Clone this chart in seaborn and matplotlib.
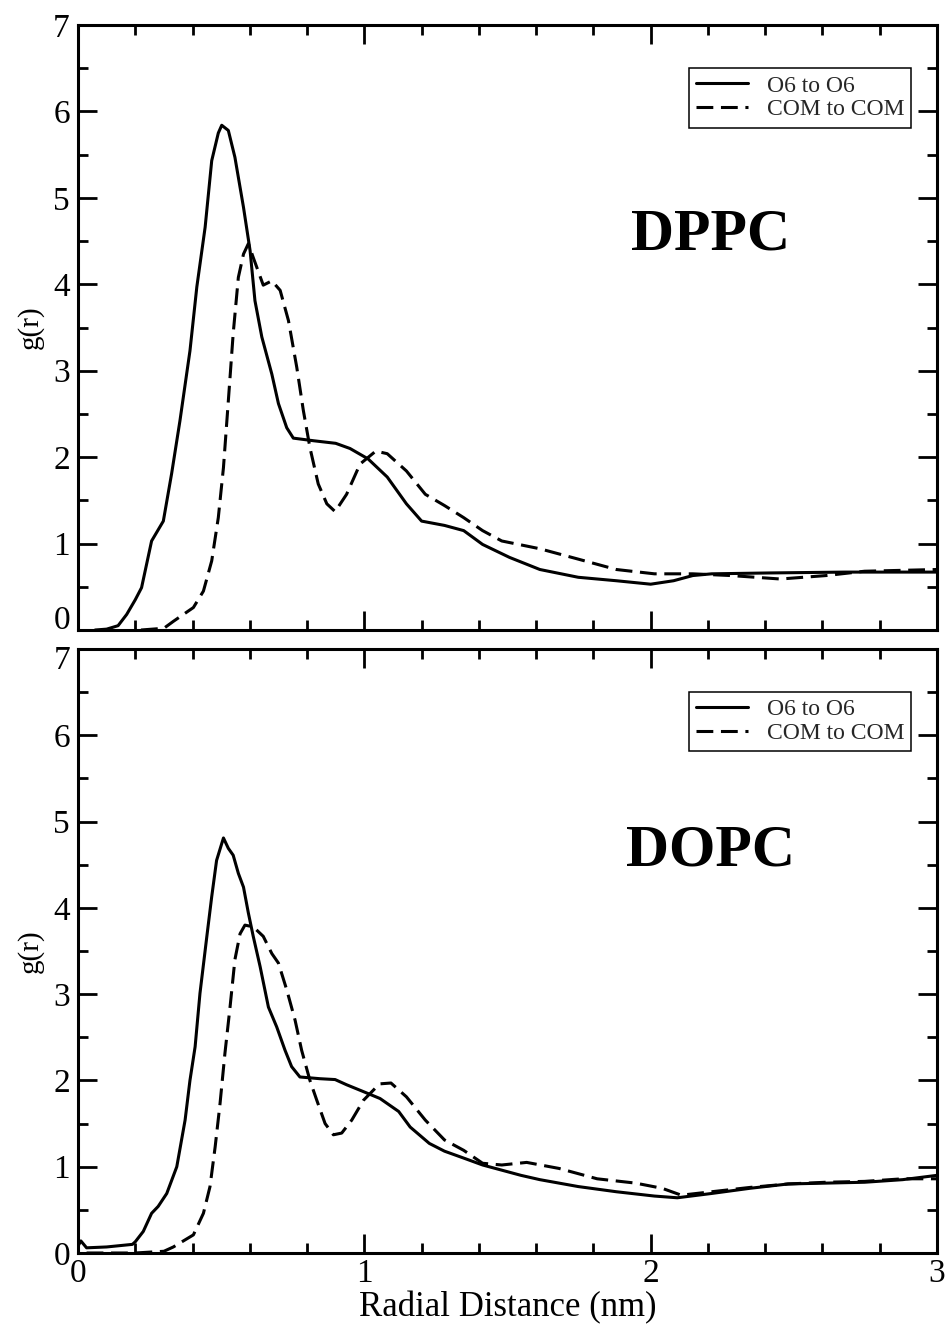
import numpy as np
import pandas as pd
import matplotlib
matplotlib.use("Agg")
import matplotlib.pyplot as plt
from matplotlib.ticker import MultipleLocator, FuncFormatter
import seaborn as sns

# ---- radial distribution functions (r in nm) ----
pairs = ["O6 to O6", "COM to COM"]

dppc_o6_r = [0.06, 0.10, 0.14, 0.17, 0.20, 0.222, 0.257, 0.298, 0.327, 0.356, 0.391, 0.415,
             0.444, 0.467, 0.49, 0.502, 0.525, 0.548, 0.578, 0.601, 0.618, 0.642, 0.677, 0.70,
             0.729, 0.752, 0.822, 0.90, 0.95, 1.013, 1.08, 1.147, 1.20, 1.28, 1.347, 1.413,
             1.507, 1.613, 1.747, 1.88, 2.0, 2.08, 2.147, 2.213, 2.413, 2.68, 3.0]
dppc_o6_g = [0.0, 0.01, 0.05, 0.18, 0.35, 0.49, 1.03, 1.26, 1.81, 2.42, 3.23, 3.97,
             4.66, 5.43, 5.75, 5.84, 5.78, 5.47, 4.89, 4.39, 3.81, 3.39, 2.96, 2.62,
             2.34, 2.22, 2.19, 2.16, 2.10, 1.98, 1.77, 1.46, 1.26, 1.21, 1.15, 0.99,
             0.84, 0.70, 0.61, 0.57, 0.53, 0.57, 0.63, 0.65, 0.66, 0.67, 0.67]

dppc_com_r = [0.22, 0.30, 0.333, 0.403, 0.438, 0.467, 0.49, 0.508, 0.525, 0.542, 0.56, 0.578,
              0.595, 0.612, 0.647, 0.677, 0.706, 0.735, 0.764, 0.787, 0.81, 0.839, 0.869,
              0.898, 0.938, 0.985, 1.04, 1.08, 1.147, 1.213, 1.28, 1.347, 1.413, 1.48, 1.613,
              1.747, 1.88, 2.013, 2.147, 2.28, 2.453, 2.613, 2.747, 3.0]
dppc_com_g = [0.0, 0.02, 0.10, 0.26, 0.45, 0.80, 1.30, 1.88, 2.65, 3.43, 4.08, 4.35,
              4.47, 4.31, 3.99, 4.04, 3.93, 3.58, 3.04, 2.54, 2.11, 1.69, 1.46,
              1.37, 1.57, 1.92, 2.07, 2.04, 1.84, 1.57, 1.44, 1.30, 1.15, 1.03, 0.94,
              0.82, 0.70, 0.65, 0.65, 0.63, 0.59, 0.63, 0.68, 0.70]

dopc_o6_r = [0.0, 0.01, 0.03, 0.10, 0.19, 0.20, 0.228, 0.257, 0.28, 0.31, 0.345, 0.374,
             0.391, 0.409, 0.426, 0.45, 0.467, 0.484, 0.508, 0.525, 0.542, 0.56, 0.578,
             0.595, 0.612, 0.636, 0.665, 0.694, 0.723, 0.746, 0.775, 0.845, 0.898, 0.938,
             0.997, 1.055, 1.12, 1.16, 1.227, 1.28, 1.347, 1.413, 1.48, 1.547, 1.613,
             1.747, 1.88, 2.013, 2.093, 2.213, 2.347, 2.48, 2.613, 2.747, 2.88, 3.0]
dopc_o6_g = [0.08, 0.14, 0.06, 0.07, 0.10, 0.13, 0.25, 0.46, 0.54, 0.69, 1.0, 1.54,
             2.0, 2.39, 3.01, 3.67, 4.13, 4.55, 4.81, 4.69, 4.61, 4.40, 4.24,
             3.94, 3.67, 3.32, 2.85, 2.62, 2.35, 2.16, 2.04, 2.02, 2.01, 1.95,
             1.87, 1.79, 1.64, 1.46, 1.27, 1.18, 1.10, 1.02, 0.96, 0.90, 0.85,
             0.77, 0.71, 0.66, 0.64, 0.69, 0.75, 0.80, 0.81, 0.82, 0.85, 0.90]

dopc_com_r = [0.03, 0.20, 0.30, 0.333, 0.403, 0.438, 0.461, 0.479, 0.496, 0.513, 0.531,
              0.548, 0.566, 0.583, 0.612, 0.647, 0.677, 0.70, 0.729, 0.758, 0.781, 0.81,
              0.834, 0.863, 0.892, 0.921, 0.956, 0.997, 1.053, 1.093, 1.147, 1.213, 1.28,
              1.347, 1.413, 1.48, 1.567, 1.68, 1.813, 1.947, 2.04, 2.107, 2.213, 2.347,
              2.48, 2.613, 2.747, 2.88, 3.0]
dopc_com_g = [0.0, 0.0, 0.02, 0.07, 0.21, 0.46, 0.77, 1.23, 1.73, 2.31, 2.85,
              3.40, 3.70, 3.80, 3.78, 3.67, 3.47, 3.36, 3.05, 2.70, 2.35, 2.0,
              1.77, 1.50, 1.37, 1.39, 1.54, 1.77, 1.96, 1.97, 1.81, 1.54, 1.31,
              1.19, 1.04, 1.02, 1.05, 0.98, 0.86, 0.81, 0.75, 0.67, 0.71, 0.76,
              0.80, 0.82, 0.83, 0.86, 0.86]

panels = [
    ("DPPC", 4.56, (dppc_o6_r, dppc_o6_g), (dppc_com_r, dppc_com_g)),
    ("DOPC", 4.65, (dopc_o6_r, dopc_o6_g), (dopc_com_r, dopc_com_g)),
]

sns.set_theme(style="ticks")
plt.rcParams["font.family"] = ["Liberation Serif", "DejaVu Serif"]
plt.rcParams["axes.linewidth"] = 2.2

fig = plt.figure(figsize=(9.51, 13.26), dpi=100)
W, H = 951, 1326
ax_boxes = [(78, 25, 937, 630), (78, 649, 937, 1253)]

dash_map = {"O6 to O6": "", "COM to COM": (5.5, 2.5)}

for i, ((name, name_y, o6, com), (x0, y0, x1, y1)) in enumerate(zip(panels, ax_boxes)):
    ax = fig.add_axes([x0 / W, 1 - y1 / H, (x1 - x0) / W, (y1 - y0) / H])
    df = pd.concat([
        pd.DataFrame({"r": o6[0], "g": o6[1], "pair": pairs[0]}),
        pd.DataFrame({"r": com[0], "g": com[1], "pair": pairs[1]}),
    ], ignore_index=True)
    sns.lineplot(data=df, x="r", y="g", style="pair", style_order=pairs,
                 dashes=dash_map, color="black", linewidth=2.2, sort=False,
                 estimator=None, legend=False, ax=ax)
    ax.set_xlim(0, 3)
    ax.set_ylim(0, 7)
    ax.xaxis.set_major_locator(MultipleLocator(1))
    ax.xaxis.set_minor_locator(MultipleLocator(0.2))
    ax.yaxis.set_major_locator(MultipleLocator(1))
    ax.yaxis.set_minor_locator(MultipleLocator(0.5))
    ax.tick_params(which="both", direction="in", top=True, right=True,
                   width=2.0, color="black", labelsize=24, labelcolor="black")
    ax.tick_params(which="major", length=13.5)
    ax.tick_params(which="minor", length=7.2)
    ax.tick_params(axis="y", pad=5.8)
    ax.tick_params(axis="x", pad=4)
    for sp in ax.spines.values():
        sp.set_visible(True)
        sp.set_color("black")
        sp.set_linewidth(2.2)

    # the shared 0/7 boundary labels are nudged apart
    hidden = 0 if i == 0 else 7
    ax.yaxis.set_major_formatter(
        FuncFormatter(lambda v, p, h=hidden: "" if abs(v - h) < 1e-6 else f"{v:g}"))
    ax.annotate(str(hidden), xy=(0, hidden), xycoords=("axes fraction", "data"),
                xytext=(-8, 9 if i == 0 else -12), textcoords="offset pixels",
                ha="right", va="center", fontsize=24, color="black")

    ax.set_ylabel("g(r)", fontsize=21, color="black")
    ax.yaxis.set_label_coords(-0.056, 0.5)
    ax.yaxis.label.set_va("center")

    if i == 0:
        ax.set_xlabel("")
        ax.tick_params(axis="x", labelbottom=False)
    else:
        ax.set_xlabel("Radial Distance (nm)", fontsize=25, color="black")
        ax.xaxis.set_label_coords(0.5, -0.09)
        ax.xaxis.label.set_va("center")

    ax.text(2.21, name_y, name, fontsize=43, fontweight="bold",
            ha="center", va="center", color="black")

    leg = ax.legend(ax.get_lines()[:2], pairs, loc="upper right",
                    bbox_to_anchor=(0.970, 0.929), fontsize=17, frameon=True,
                    fancybox=False, shadow=False, handlelength=2.2,
                    handletextpad=0.8, labelspacing=0.1, borderpad=0.3,
                    borderaxespad=0.0)
    leg.get_frame().set_edgecolor("black")
    leg.get_frame().set_linewidth(1.1)
    leg.get_frame().set_facecolor("white")
    leg.get_frame().set_alpha(1.0)

fig.savefig("out.png", dpi=100, facecolor="white")
